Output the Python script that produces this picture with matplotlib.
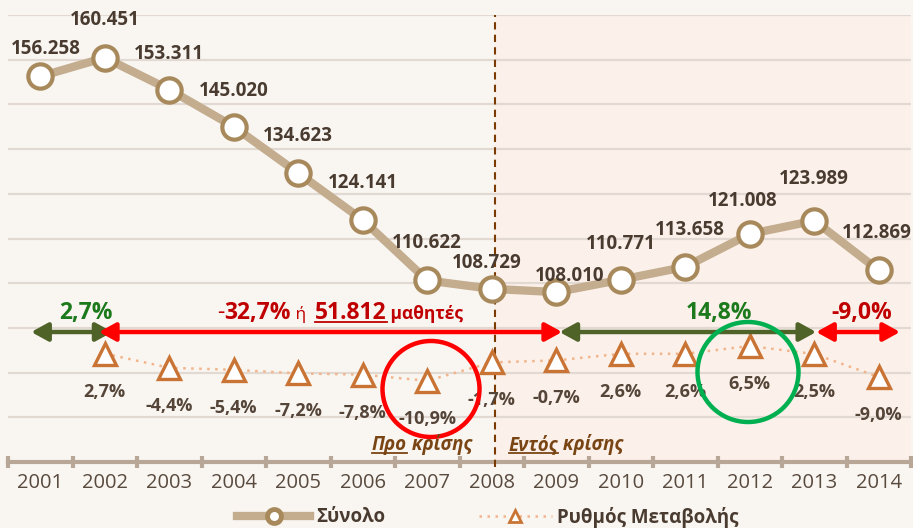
import numpy as np
import matplotlib
matplotlib.use("Agg")
import matplotlib.pyplot as plt
from matplotlib.patches import FancyArrowPatch, Ellipse
from matplotlib.lines import Line2D
from matplotlib.transforms import IdentityTransform

plt.rcParams['font.family'] = ['Open Sans', 'DejaVu Sans']

# ---------------- data ----------------
years = ['2001', '2002', '2003', '2004', '2005', '2006', '2007',
         '2008', '2009', '2010', '2011', '2012', '2013', '2014']
totals = [156258, 160451, 153311, 145020, 134623, 124141, 110622,
          108729, 108010, 110771, 113658, 121008, 123989, 112869]
rates = [np.nan, 2.7, -4.4, -5.4, -7.2, -7.8, -10.9,
         -1.7, -0.7, 2.6, 2.6, 6.5, 2.5, -9.0]
series_names = ['Σύνολο', 'Ρυθμός Μεταβολής']

# ---------------- style ----------------
W, H, DPI = 913, 528, 100
BG = '#f9f6f2'
SPAN = '#fbf1ea'
LINE_C = '#c4ad8f'
MARK_C = '#a8895b'
TRI_C = '#c97434'
DOT_C = '#f2b48a'
LBL_C = '#4a3b30'
GRID_C = '#e2dad2'
AXIS_C = '#b8a796'
GREEN_T = '#1c7a1c'
RED_T = '#c00000'
GREEN_A = '#4f6228'
RED_A = '#ff0000'
BROWN = '#7a4514'

fig = plt.figure(figsize=(W / DPI, H / DPI), dpi=DPI, facecolor=BG)
ax = fig.add_axes([8 / W, 1 - 462 / H, 903 / W, 447 / H])
ax.set_facecolor(BG)
ax2 = ax.twinx()

x = np.arange(len(years))

# shaded "in crisis" area + crisis separator
crisis_x = 7.05
ax.axvspan(crisis_x, len(years) - 0.5, color=SPAN, zorder=0.2, lw=0)
ax.axvline(crisis_x, ymin=-0.012, ymax=1, color='#7a3a00', lw=1.5,
           ls=(0, (3.5, 2.5)), zorder=3, clip_on=False)

# totals line
ax.plot(x, totals, color=LINE_C, lw=6, zorder=4, solid_capstyle='round',
        marker='o', ms=17.5, mfc='white', mec=MARK_C, mew=3.0)
ax.set_xlim(-0.5, len(years) - 0.5)
ax.set_ylim(70000, 170000)
ax.set_yticks(np.arange(70000, 170001, 10000))
ax.yaxis.grid(True, color=GRID_C, lw=1.6)
ax.set_axisbelow(True)
ax.tick_params(axis='y', left=False, labelleft=False)

# x axis
ax.set_xticks(x)
ax.set_xticklabels(years, fontsize=14.5, color='#594a3e')
ax.set_xticks(np.arange(-0.5, len(years), 1.0), minor=True)
ax.tick_params(axis='x', which='major', length=0, pad=8)
ax.tick_params(axis='x', which='minor', direction='inout', length=9,
               width=3, color=AXIS_C)
for s in ['top', 'left', 'right']:
    ax.spines[s].set_visible(False)
ax.spines['bottom'].set_color(AXIS_C)
ax.spines['bottom'].set_linewidth(3)

# total labels
dx_px = [6, 0, 0, 0, 0, 0, 0, -5, 13, 0, 5, -7, 0, -2]
dy_px = [27, 38, 36, 36, 37, 37, 37, 26, 16, 36, 37, 33, 42, 37]
for i, v in enumerate(totals):
    ax.annotate(f"{v:,}".replace(',', '.'), (x[i], v),
                xytext=(dx_px[i] * 0.72, dy_px[i] * 0.72),
                textcoords='offset points', ha='center', va='center',
                fontsize=13.5, fontweight='bold', color=LBL_C, zorder=6)

# rate line on secondary axis
ax2.plot(x, rates, color=DOT_C, lw=1.8, ls=(0, (1, 2.2)), zorder=3)
ax2.plot(x, rates, ls='none', marker='^', ms=16, mfc='white',
         mec=TRI_C, mew=2.4, zorder=4)
ax2.set_ylim(-51.5, 172)
ax2.set_yticks([])
for s in ['top', 'left', 'right', 'bottom']:
    ax2.spines[s].set_visible(False)
for i, v in enumerate(rates):
    if np.isnan(v):
        continue
    ax2.annotate(f"{v:.1f}%".replace('.', ','), (x[i], v),
                 xytext=(0, -38 * 0.72), textcoords='offset points',
                 ha='center', va='center', fontsize=13,
                 fontweight='bold', color='#554539', zorder=6)

# period arrows
arrow_y = 13.5
arrows = [(-0.14, 1.12, GREEN_A), (0.91, 8.09, RED_A),
          (8.05, 12.03, GREEN_A), (12.03, 13.33, RED_A)]
for a, b, c in arrows:
    p = FancyArrowPatch((a, arrow_y), (b, arrow_y),
                        arrowstyle='<|-|>,head_length=10,head_width=5.5',
                        mutation_scale=1, color=c, lw=3.2, shrinkA=0,
                        shrinkB=0, transform=ax2.transData, zorder=7,
                        clip_on=False)
    ax2.add_patch(p)

ax2.text(0.71, 23, '2,7%', ha='center', va='center', fontsize=16.5,
         fontweight='bold', color=GREEN_T, zorder=8)
ax2.text(10.53, 23, '14,8%', ha='center', va='center', fontsize=16.5,
         fontweight='bold', color=GREEN_T, zorder=8)
ax2.text(12.73, 23, '-9,0%', ha='center', va='center', fontsize=16.5,
         fontweight='bold', color=RED_T, zorder=8)

# highlight circles (pixel geometry)
fig.patches.append(Ellipse((4.31, (H - 389) / DPI), 0.97, 0.96,
                           transform=fig.dpi_scale_trans, fill=False,
                           ec='#ff0000', lw=3.2, zorder=9))
fig.patches.append(Ellipse((7.48, (H - 372) / DPI), 1.01, 1.0,
                           transform=fig.dpi_scale_trans, fill=False,
                           ec='#00b050', lw=3.2, zorder=9))

# legend
h1 = Line2D([], [], color=LINE_C, lw=6, marker='o', ms=10, mfc='white',
            mec=MARK_C, mew=3.5)
h2 = Line2D([], [], color=DOT_C, lw=1.8, ls=(0, (1, 2.2)), marker='^',
            ms=8, mfc='white', mec=TRI_C, mew=2)
leg = fig.legend([h1, h2], series_names, loc='center left',
                 bbox_to_anchor=(237 / W, (H - 517) / H), ncol=2,
                 frameon=False, fontsize=13.5, handlelength=3.9,
                 handletextpad=0.3, columnspacing=5.0, borderpad=0,
                 borderaxespad=0)
for t in leg.get_texts():
    t.set_fontweight('bold')
    t.set_color(LBL_C)

# sequential rich text helpers (pixel coords, top-left origin)
fig.canvas.draw()
renderer = fig.canvas.get_renderer()
ident = IdentityTransform()


def seq_text(x0, y_base, pieces):
    cx = x0
    for s, kw, underline in pieces:
        t = fig.text(cx, H - y_base, s, transform=ident, va='baseline',
                     ha='left', zorder=10, **kw)
        bb = t.get_window_extent(renderer)
        if underline:
            fig.add_artist(Line2D([bb.x0, bb.x1], [H - y_base - 3] * 2,
                                  transform=ident, color=kw['color'],
                                  lw=1.3))
        cx = bb.x1


red_big = dict(fontsize=16.5, fontweight='bold', color=RED_T)
red_small = dict(fontsize=12.5, fontweight='bold', color=RED_T)
seq_text(217, 319, [('-', dict(fontsize=16.5, color=RED_T), False),
                    ('32,7%', red_big, False),
                    (' ή  ', dict(fontsize=12.5, color=RED_T), False),
                    ('51.812', red_big, True),
                    (' μαθητές', red_small, False)])

crisis_kw = dict(fontsize=13.5, fontweight='bold', style='italic',
                 color=BROWN)
seq_text(372, 450, [('Προ', crisis_kw, True), (' κρίσης', crisis_kw, False)])
seq_text(509, 450, [('Εντός', crisis_kw, True),
                    (' κρίσης', crisis_kw, False)])

fig.savefig('out.png', dpi=DPI, facecolor=BG)
